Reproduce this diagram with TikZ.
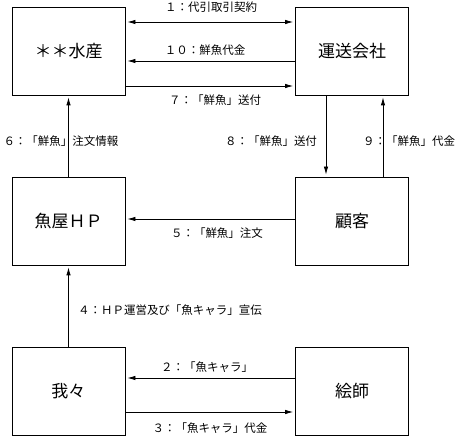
\documentclass[tikz,border=0pt]{standalone}
\usepackage{fontspec}
\setmainfont{Noto Sans CJK JP}
\usetikzlibrary{arrows.meta}
\begin{document}
\begin{tikzpicture}[x=1pt,y=1pt,
  box/.style={draw,line width=0.8pt,minimum width=113pt,minimum height=88pt,inner sep=0pt,font=\fontsize{17}{20}\selectfont},
  lbl/.style={font=\fontsize{11.5}{13}\selectfont,inner sep=0pt},
  conn/.style={line width=0.8pt,-{Latex[length=8pt,width=4.5pt]},shorten >=2pt},
  conn2/.style={line width=0.8pt,{Latex[length=8pt,width=4.5pt]}-{Latex[length=8pt,width=4.5pt]},shorten >=2pt,shorten <=2pt}]
\useasboundingbox (0,0) rectangle (456,436);
\node[box] (A) at (68.5,385) {＊＊水産};
\node[box] (B) at (352,385) {運送会社};
\node[box] (C) at (68.5,215) {魚屋ＨＰ};
\node[box] (D) at (352,215) {顧客};
\node[box] (E) at (68.5,45) {我々};
\node[box] (F) at (352,45) {絵師};
% connectors
\draw[conn2] ([yshift=29pt]A.east) -- ([yshift=29pt]B.west);
\draw[conn] ([yshift=-10pt]B.west) -- ([yshift=-10pt]A.east);
\draw[conn] ([yshift=-35pt]A.east) -- ([yshift=-35pt]B.west);
\draw[conn] (C.north) -- (A.south);
\draw[conn] ([xshift=-26pt]B.south) -- ([xshift=-26pt]D.north);
\draw[conn] ([xshift=31pt]D.south |- D.north) -- ([xshift=31pt]B.south);
\draw[conn] ([yshift=2pt]D.west) -- ([yshift=2pt]C.east);
\draw[conn] (E.north) -- (C.south);
\draw[conn] ([yshift=13pt]F.west) -- ([yshift=13pt]E.east);
\draw[conn] ([yshift=-21pt]E.east) -- ([yshift=-21pt]F.west);
% labels
\node[lbl] (l1) at (211,429) {１：代引取引契約};
\node[lbl] (l10) at (205,386) {１０：鮮魚代金};
\node[lbl] (l7) at (215,336) {７：「鮮魚」送付};
\node[lbl] (l6) at (61,295) {６：「鮮魚」注文情報};
\node[lbl] (l8) at (271,295) {８：「鮮魚」送付};
\node[lbl] (l9) at (409,295) {９：「鮮魚」代金};
\node[lbl] (l5) at (217,203) {５：「鮮魚」注文};
\node[lbl] (l4) at (170,126) {４：ＨＰ運営及び「魚キャラ」宣伝};
\node[lbl] (l2) at (207,69) {２：「魚キャラ」};
\node[lbl] (l3) at (210,8) {３：「魚キャラ」代金};
\end{tikzpicture}
\end{document}
